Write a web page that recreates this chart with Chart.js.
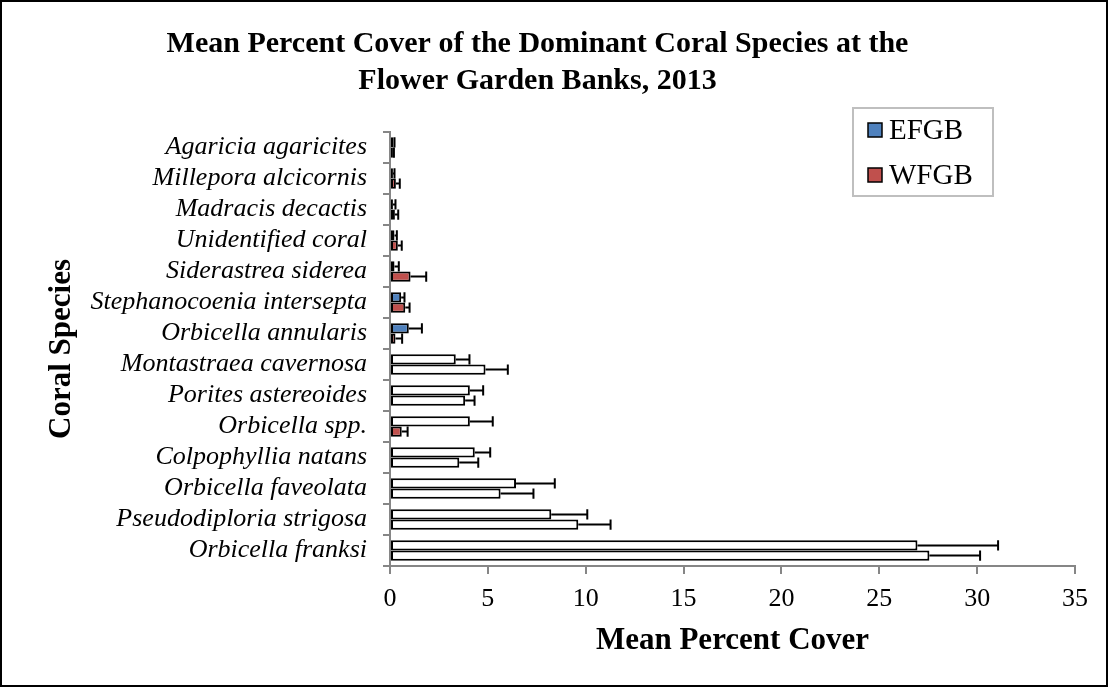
<!DOCTYPE html>
<html>
<head>
<meta charset="utf-8">
<script src="https://cdn.jsdelivr.net/npm/chart.js@4/dist/chart.umd.min.js"></script>
<style>
  html, body { margin: 0; padding: 0; background: #fff; }
  #wrap { width: 1109px; height: 688px; position: relative; }
</style>
</head>
<body>
<div id="wrap"><canvas id="coralChart" width="1109" height="688"></canvas></div>
<script>
// Species, top to bottom as in the figure
const speciesLabels = [
    'Agaricia agaricites', 'Millepora alcicornis', 'Madracis decactis', 'Unidentified coral',
    'Siderastrea siderea', 'Stephanocoenia intersepta', 'Orbicella annularis', 'Montastraea cavernosa',
    'Porites astereoides', 'Orbicella spp.', 'Colpophyllia natans', 'Orbicella faveolata',
    'Pseudodiploria strigosa', 'Orbicella franksi'
];
const seriesNames = ['EFGB', 'WFGB'];

// Mean percent cover and error (upper whisker length)
const efgbMean = [0.18, 0.15, 0.15, 0.23, 0.23, 0.57, 0.96, 3.36, 4.08, 4.08, 4.33, 6.44, 8.24, 26.95];
const efgbErr  = [0.05, 0.08, 0.13, 0.12, 0.22, 0.17, 0.67, 0.70, 0.68, 1.17, 0.79, 1.98, 1.84, 4.12];
const wfgbMean = [0.15, 0.30, 0.25, 0.40, 1.05, 0.78, 0.28, 4.88, 3.84, 0.60, 3.54, 5.65, 9.62, 27.56];
const wfgbErr  = [0.05, 0.20, 0.17, 0.20, 0.80, 0.22, 0.34, 1.14, 0.48, 0.30, 0.97, 1.68, 1.65, 2.59];

const xTicks = [0, 5, 10, 15, 20, 25, 30, 35];

// Styles
const EFGB_COLOR = '#4F81BD';
const WFGB_COLOR = '#C0504D';
const AXIS_GRAY = '#868686';
const FONT = "'Liberation Serif', 'Times New Roman', serif";
// which bars are drawn filled (the rest are white in the original)
const efgbFilled = [1, 1, 1, 1, 1, 1, 1, 0, 0, 0, 0, 0, 0, 0];
const wfgbFilled = [1, 1, 1, 1, 1, 1, 1, 0, 0, 1, 0, 0, 0, 0];

const errors = [efgbErr, wfgbErr];

// draws whiskers on the right end of each bar
const errorBarPlugin = {
    id: 'errorBars',
    afterDatasetsDraw(chart) {
        const ctx = chart.ctx;
        const xScale = chart.scales.x;
        ctx.save();
        ctx.strokeStyle = '#000';
        ctx.lineWidth = 2;
        chart.data.datasets.forEach((ds, i) => {
            const meta = chart.getDatasetMeta(i);
            meta.data.forEach((bar, j) => {
                const p = bar.getProps(['x', 'y', 'height'], true);
                const xEnd = xScale.getPixelForValue(ds.data[j] + errors[i][j]);
                const half = p.height / 2;
                ctx.beginPath();
                ctx.moveTo(p.x, p.y);
                ctx.lineTo(xEnd, p.y);
                ctx.moveTo(xEnd, p.y - half);
                ctx.lineTo(xEnd, p.y + half);
                ctx.stroke();
            });
        });
        ctx.restore();
    }
};

// white page, outer frame and boxed legend
const framePlugin = {
    id: 'frame',
    beforeDraw(chart) {
        const ctx = chart.ctx;
        ctx.save();
        ctx.fillStyle = '#fff';
        ctx.fillRect(0, 0, chart.width, chart.height);
        ctx.restore();
    },
    afterDraw(chart) {
        const ctx = chart.ctx;
        ctx.save();
        ctx.strokeStyle = '#000';
        ctx.lineWidth = 2;
        ctx.strokeRect(1, 1, chart.width - 3, chart.height - 3);

        // legend
        ctx.strokeStyle = '#BFBFBF';
        ctx.lineWidth = 2;
        ctx.strokeRect(853, 108, 140, 88);
        const colors = [EFGB_COLOR, WFGB_COLOR];
        const rowY = [130, 175];
        ctx.font = '29px ' + FONT;
        ctx.textBaseline = 'middle';
        ctx.fillStyle = '#000';
        seriesNames.forEach((name, i) => {
            ctx.fillStyle = colors[i];
            ctx.fillRect(868, rowY[i] - 7, 14, 14);
            ctx.strokeStyle = '#000';
            ctx.lineWidth = 1.5;
            ctx.strokeRect(868, rowY[i] - 7, 14, 14);
            ctx.fillStyle = '#000';
            ctx.fillText(name, 889, rowY[i] + 1);
        });
        ctx.restore();
    }
};

const ctx = document.getElementById('coralChart').getContext('2d');
const coralChart = new Chart(ctx, {
    type: 'bar',
    data: {
        labels: speciesLabels,
        datasets: [
            {
                label: seriesNames[0],
                data: efgbMean,
                backgroundColor: efgbFilled.map(f => f ? EFGB_COLOR : '#FFFFFF'),
                borderColor: '#000',
                borderWidth: 2,
                borderSkipped: false,
                categoryPercentage: 0.66,
                barPercentage: 1.0
            },
            {
                label: seriesNames[1],
                data: wfgbMean,
                backgroundColor: wfgbFilled.map(f => f ? WFGB_COLOR : '#FFFFFF'),
                borderColor: '#000',
                borderWidth: 2,
                borderSkipped: false,
                categoryPercentage: 0.66,
                barPercentage: 1.0
            }
        ]
    },
    options: {
        indexAxis: 'y',
        responsive: false,
        animation: false,
        devicePixelRatio: 1,
        layout: { padding: { left: 0, right: 34, top: 0, bottom: 0 } },
        plugins: {
            legend: { display: false },
            tooltip: { enabled: false },
            title: {
                display: true,
                text: ['Mean Percent Cover of the Dominant Coral Species at the', 'Flower Garden Banks, 2013'],
                color: '#000',
                font: { family: FONT, size: 30, weight: 'bold', lineHeight: 37 / 30 },
                padding: { top: 26, bottom: 32 }
            }
        },
        scales: {
            x: {
                min: 0,
                max: 35,
                afterBuildTicks: (scale) => { scale.ticks = xTicks.map(v => ({ value: v })); },
                afterFit: (scale) => { scale.height = 122; },
                grid: { drawOnChartArea: false, drawTicks: true, tickLength: 8, color: AXIS_GRAY, lineWidth: 2 },
                border: { display: true, color: AXIS_GRAY, width: 2 },
                ticks: { color: '#000', padding: 10, font: { family: FONT, size: 26 } },
                title: {
                    display: true,
                    text: 'Mean Percent Cover',
                    color: '#000',
                    font: { family: FONT, size: 31, weight: 'bold' },
                    padding: { top: 0, bottom: 28 }
                }
            },
            y: {
                afterFit: (scale) => { scale.width = 390; },
                grid: { drawOnChartArea: false, drawTicks: true, tickLength: 7, color: AXIS_GRAY, lineWidth: 2, offset: true },
                border: { display: true, color: AXIS_GRAY, width: 2 },
                ticks: { color: '#000', padding: 16, autoSkip: false, font: { family: FONT, size: 26, style: 'italic' } },
                title: {
                    display: true,
                    text: 'Coral Species',
                    color: '#000',
                    font: { family: FONT, size: 31, weight: 'bold' },
                    padding: { top: 43, bottom: 0 }
                }
            }
        }
    },
    plugins: [errorBarPlugin, framePlugin]
});
</script>
</body>
</html>
